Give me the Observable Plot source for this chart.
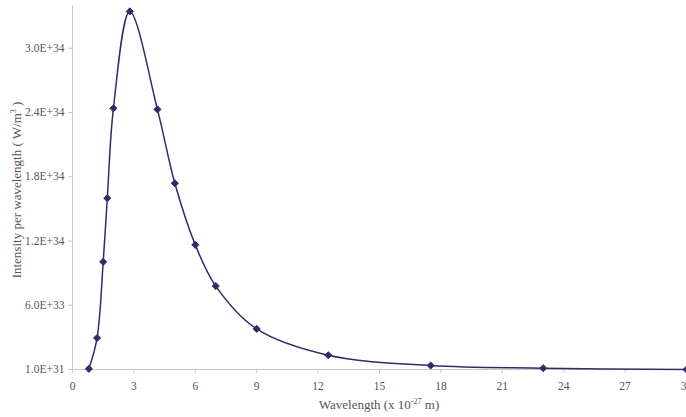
<!DOCTYPE html>
<html>
<head>
<meta charset="utf-8">
<script src="https://cdn.jsdelivr.net/npm/d3@7"></script>
<script src="https://cdn.jsdelivr.net/npm/@observablehq/plot@0.6"></script>
<style>
  html, body { margin: 0; padding: 0; background: #fff; overflow: hidden; }
  svg { overflow: visible; }
</style>
</head>
<body>
<div id="chart"></div>
<script>
// Data (wavelength in 1e-27 m, intensity in W/m^3)
const wavelength = [0.8, 1.2, 1.5, 1.7, 2.0, 2.8, 4.15, 5.0, 6.0, 7.0, 9.0, 12.5, 17.5, 23.0, 30.0];
const intensity  = [0.07e33, 2.95e33, 10.06e33, 16.0e33, 24.4e33, 33.45e33, 24.3e33, 17.4e33, 11.65e33, 7.8e33, 3.8e33, 1.34e33, 0.38e33, 0.13e33, 0.01e33];

const xTicks = [0, 3, 6, 9, 12, 15, 18, 21, 24, 27, 30];
const yTicks = [1e31, 6.01e33, 1.201e34, 1.801e34, 2.401e34, 3.001e34];
const yTickLabels = ["1.0E+31", "6.0E+33", "1.2E+34", "1.8E+34", "2.4E+34", "3.0E+34"];

const data = wavelength.map((w, i) => ({w, v: intensity[i]}));

const navy = "#2d2d6b";
const axisGray = "#c8c8c8";
const textGray = "#555";
const font = "'Liberation Serif', 'Times New Roman', serif";

const plot = Plot.plot({
  width: 686,
  height: 417,
  marginLeft: 72,
  marginRight: 0,
  marginTop: 5,
  marginBottom: 48,
  style: {fontFamily: "Liberation Serif", fontSize: "11px", color: textGray, background: "#fff", overflow: "visible"},
  x: {domain: [0, 30]},
  y: {domain: [1e31, 3.4e34]},
  marks: [
    Plot.ruleX([0], {y1: 1e31, y2: 3.4e34, stroke: axisGray, strokeWidth: 1}),
    Plot.ruleY([1e31], {x1: 0, x2: 30, stroke: axisGray, strokeWidth: 1}),
    Plot.axisY({ticks: yTicks, tickSize: 4, tickPadding: 4, stroke: axisGray, fill: textGray, fontSize: 11.5,
      tickFormat: (d, i) => yTickLabels[i], label: null}),
    Plot.axisX({ticks: xTicks, tickSize: 4, tickPadding: 8, stroke: axisGray, fill: textGray, fontSize: 11.5,
      tickFormat: d => String(d), label: null}),
    Plot.line(data, {x: "w", y: "v", curve: "catmull-rom", stroke: navy, strokeWidth: 1.5}),
    Plot.dot(data, {x: "w", y: "v", symbol: "diamond2", r: 3.2, fill: navy, stroke: navy, strokeWidth: 1})
  ]
});

const svg = d3.select(plot);
// Y axis label with superscript
const yl = svg.append("text")
  .attr("transform", "translate(21,190) rotate(-90)")
  .attr("text-anchor", "middle")
  .attr("font-size", "13px")
  .attr("fill", textGray);
yl.append("tspan").text("Intensity per wavelength ( W/m");
yl.append("tspan").attr("dy", "-5").attr("font-size", "8px").text("3");
yl.append("tspan").attr("dy", "5").text(" )");

// X axis label with superscript
const xl = svg.append("text")
  .attr("x", 379)
  .attr("y", 409)
  .attr("text-anchor", "middle")
  .attr("font-size", "13px")
  .attr("fill", textGray);
xl.append("tspan").text("Wavelength (x 10");
xl.append("tspan").attr("dy", "-5").attr("font-size", "8px").text("-27");
xl.append("tspan").attr("dy", "5").text(" m)");

svg.selectAll("text").style("font-family", font);
svg.selectAll("g[aria-label$='axis'], g[aria-label$='tick label']").style("font-family", font);

document.getElementById("chart").appendChild(plot);
</script>
</body>
</html>
